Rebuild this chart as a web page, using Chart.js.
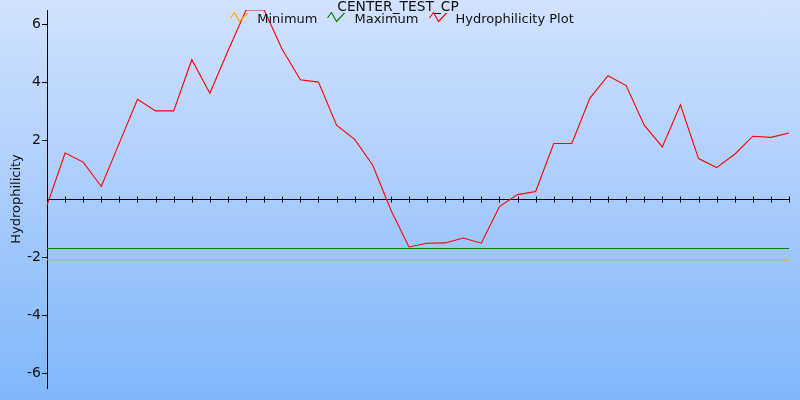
<!DOCTYPE html>
<html>
<head>
<meta charset="utf-8">
<title>CENTER_TEST_CP</title>
<script src="https://cdn.jsdelivr.net/npm/chart.js@4/dist/chart.umd.min.js"></script>
<style>
    html, body { margin: 0; padding: 0; }
    body {
        width: 800px;
        height: 400px;
        overflow: hidden;
        background: linear-gradient(to bottom, #d2e2ff 0%, #7fb6f9 100%);
        font-family: "DejaVu Sans", sans-serif;
        color: #111;
    }
    #wrap { position: relative; width: 800px; height: 400px; }
    #hydroChart { position: absolute; left: 0; top: 0; }
    #chartTitle {
        position: absolute;
        top: -1px;
        left: 0;
        width: 796px;
        text-align: center;
        font-size: 13.8px;
        line-height: 15px;
    }
    #legend {
        position: absolute;
        top: 11px;
        left: 0;
        width: 804px;
        display: flex;
        justify-content: center;
        font-size: 13px;
        line-height: 15px;
    }
    .item { display: flex; align-items: flex-start; margin: 0 5px; }
    .item svg { margin: 1px 9px 0 0; }
</style>
</head>
<body>
<div id="wrap">
    <canvas id="hydroChart" width="800" height="400"></canvas>
    <div id="chartTitle">CENTER_TEST_CP</div>
    <div id="legend"></div>
</div>
<script>
// residue positions along the sequence (x axis is hidden in the picture)
const residues = [1, 2, 3, 4, 5, 6, 7, 8, 9, 10, 11, 12, 13, 14, 15, 16, 17, 18, 19, 20, 21,
                  22, 23, 24, 25, 26, 27, 28, 29, 30, 31, 32, 33, 34, 35, 36, 37, 38, 39, 40, 41, 42];

const hydrophilicity = [-0.22, 1.58, 1.27, 0.43, 1.93, 3.43, 3.03, 3.03, 4.79, 3.64,
                        5.1, 6.5, 6.5, 5.14, 4.1, 4.02, 2.54, 2.05, 1.16, -0.38,
                        -1.65, -1.52, -1.51, -1.34, -1.52, -0.26, 0.15, 0.26, 1.91, 1.91,
                        3.47, 4.24, 3.9, 2.54, 1.79, 3.24, 1.39, 1.08, 1.54, 2.16,
                        2.12, 2.27];

const minimumLevel = -2.09;
const maximumLevel = -1.70;

const yTicks = [-6, -4, -2, 2, 4, 6];

const seriesNames = ['Minimum', 'Maximum', 'Hydrophilicity Plot'];
const seriesColors = ['#ffa500', '#008000', '#ff0000'];

// legend as html, with the little zig-zag glyphs
const legendBox = document.getElementById('legend');
seriesNames.forEach((name, i) => {
    const item = document.createElement('div');
    item.className = 'item';
    item.innerHTML =
        '<svg width="18" height="11" viewBox="0 0 18 11">' +
        '<polyline points="0.5,6 4.5,0.5 9.5,9.5 17.5,1" fill="none" stroke="' + seriesColors[i] + '" stroke-width="1.1"/>' +
        '</svg><span>' + name + '</span>';
    legendBox.appendChild(item);
});

// black zero line with a tick at every residue
const centerAxis = {
    id: 'centerAxis',
    beforeDatasetsDraw(chart) {
        const { ctx, chartArea, scales: { x, y } } = chart;
        const y0 = Math.round(y.getPixelForValue(0)) + 0.5;
        ctx.save();
        ctx.strokeStyle = '#000';
        ctx.lineWidth = 1;
        ctx.beginPath();
        ctx.moveTo(chartArea.left, y0);
        ctx.lineTo(chartArea.right, y0);
        residues.forEach((r, i) => {
            if (i === 0) return;
            const px = Math.round(x.getPixelForValue(i)) + 0.5;
            ctx.moveTo(px, y0 - 3);
            ctx.lineTo(px, y0 + 3);
        });
        ctx.stroke();
        ctx.restore();
    }
};

const ctx = document.getElementById('hydroChart').getContext('2d');

new Chart(ctx, {
    type: 'line',
    data: {
        labels: residues,
        datasets: [
            {
                label: seriesNames[0],
                data: residues.map(() => minimumLevel),
                borderColor: seriesColors[0]
            },
            {
                label: seriesNames[1],
                data: residues.map(() => maximumLevel),
                borderColor: seriesColors[1]
            },
            {
                label: seriesNames[2],
                data: hydrophilicity,
                borderColor: seriesColors[2]
            }
        ]
    },
    options: {
        responsive: false,
        animation: false,
        layout: { padding: { top: 10, right: 11, bottom: 12, left: 0 } },
        elements: {
            point: { radius: 0 },
            line: { borderWidth: 1.1, tension: 0 }
        },
        plugins: {
            legend: { display: false },
            title: { display: false },
            tooltip: { enabled: false }
        },
        scales: {
            x: { display: false, offset: false },
            y: {
                min: -6.5,
                max: 6.5,
                afterBuildTicks: axis => { axis.ticks = yTicks.map(v => ({ value: v })); },
                afterFit: axis => { axis.width = 47; },
                grid: { drawOnChartArea: false, color: '#000', tickLength: 5 },
                border: { color: '#000' },
                ticks: {
                    color: '#111',
                    padding: 1,
                    font: { family: 'DejaVu Sans', size: 14 }
                },
                title: {
                    display: true,
                    text: 'Hydrophilicity',
                    color: '#111',
                    padding: { top: 9, bottom: 0 },
                    font: { family: 'DejaVu Sans', size: 13 }
                }
            }
        }
    },
    plugins: [centerAxis]
});
</script>
</body>
</html>
